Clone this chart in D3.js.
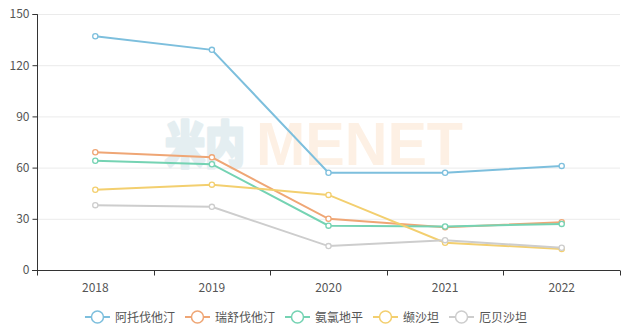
<!DOCTYPE html>
<html><head><meta charset="utf-8">
<script src="https://cdn.jsdelivr.net/npm/d3@7"></script>
<style>body{margin:0;background:#fff}svg{display:block}</style>
</head><body>
<svg id="c" width="632" height="334"></svg>
<script>
const years = ["2018","2019","2020","2021","2022"];
const seriesNames = ["阿托伐他汀","瑞舒伐他汀","氨氯地平","缬沙坦","厄贝沙坦"];
const atorvastatin = [137,129,57,57,61];
const rosuvastatin = [69,66,30,25,28];
const amlodipine = [64,62,26,25.5,27];
const valsartan = [47,50,44,16,12.3];
const irbesartan = [38,37,14,17.5,13];
const yTicks = [0,30,60,90,120,150];
const colors = ["#7dbfdd","#efa675","#75d3b3","#f3cf6f","#cdcdcd"];
const seriesData = [atorvastatin,rosuvastatin,amlodipine,valsartan,irbesartan];

const svg = d3.select("#c");
const L=37, R=620, T=14, B=270;
const x = d3.scaleBand().domain(years).range([L,R]);
const y = d3.scaleLinear().domain([0,150]).range([B,T]);
const font = "'Noto Sans CJK SC','Noto Sans',sans-serif";

// grid
svg.append("g").selectAll("line").data(yTicks.filter(d=>d>0)).join("line")
  .attr("x1",L).attr("x2",R).attr("y1",d=>y(d)+0.5).attr("y2",d=>y(d)+0.5)
  .attr("stroke","#ebebeb").attr("stroke-width",1);

// watermark
svg.append("text").attr("x",165).attr("y",163).attr("font-family",font)
  .attr("font-weight",900).attr("font-size",50).attr("fill","#e4eef1")
  .attr("stroke","#e4eef1").attr("stroke-width",3).attr("stroke-linejoin","round")
  .attr("textLength",80).attr("lengthAdjust","spacingAndGlyphs").text("米内");
svg.append("text").attr("x",256).attr("y",165).attr("font-family","'Liberation Sans',Arial,sans-serif")
  .attr("font-weight","bold").attr("font-size",61).attr("fill","#fdf0e4")
  .attr("textLength",207).attr("lengthAdjust","spacingAndGlyphs").text("MENET");

// y axis
const ya = svg.append("g").attr("transform",`translate(${L+0.5},0)`)
  .call(d3.axisLeft(y).tickValues(yTicks).tickSize(5).tickPadding(3));
ya.select(".domain").attr("stroke","#333").attr("d",`M-5,${T+0.5}H0V${B+0.5}`);
ya.selectAll(".tick line").attr("stroke","#333");
ya.selectAll("text").attr("font-family",font).attr("font-size",12).attr("fill","#555");

// x axis
const xa = svg.append("g").attr("transform",`translate(0,${B+0.5})`)
  .call(d3.axisBottom(x).tickSize(0).tickPadding(13));
xa.select(".domain").attr("stroke","#333").attr("d",`M${L-5},0H${R}`);
xa.selectAll("text").attr("font-family",font).attr("font-size",12).attr("fill","#555");
xa.append("g").selectAll("line").data(years.map(d=>x(d)).concat([R])).join("line")
  .attr("x1",d=>Math.round(d)+0.5).attr("x2",d=>Math.round(d)+0.5).attr("y1",0).attr("y2",5).attr("stroke","#333");

// lines
const line = d3.line().x((d,i)=>x(years[i])+x.bandwidth()/2).y(d=>y(d));
seriesData.forEach((s,k)=>{
  const g = svg.append("g");
  g.append("path").datum(s).attr("d",line).attr("fill","none").attr("stroke",colors[k]).attr("stroke-width",2);
  g.selectAll("circle").data(s).join("circle")
    .attr("cx",(d,i)=>x(years[i])+x.bandwidth()/2).attr("cy",d=>y(d)).attr("r",2.6)
    .attr("fill","#fff").attr("stroke",colors[k]).attr("stroke-width",1.3);
});

// legend
const lg = svg.append("g");
let widths = [];
const tmp = svg.append("text").attr("font-family",font).attr("font-size",12);
seriesNames.forEach(n=>{tmp.text(n); widths.push(tmp.node().getComputedTextLength());});
tmp.remove();
const itemW = widths.map(w=>25+5+w);
const total = d3.sum(itemW)+10*(seriesNames.length-1);
let cx = 306 - total/2;
const ly = 317;
seriesNames.forEach((n,k)=>{
  const g = lg.append("g").attr("transform",`translate(${cx},${ly})`);
  g.append("line").attr("x1",0).attr("x2",25).attr("y1",0).attr("y2",0).attr("stroke",colors[k]).attr("stroke-width",2);
  g.append("circle").attr("cx",12.5).attr("cy",0).attr("r",6).attr("fill","#fff").attr("stroke",colors[k]).attr("stroke-width",1.5);
  g.append("text").attr("x",30).attr("y",4.5).attr("font-family",font).attr("font-size",12).attr("fill","#555").text(n);
  cx += itemW[k]+10;
});
</script>
</body></html>
